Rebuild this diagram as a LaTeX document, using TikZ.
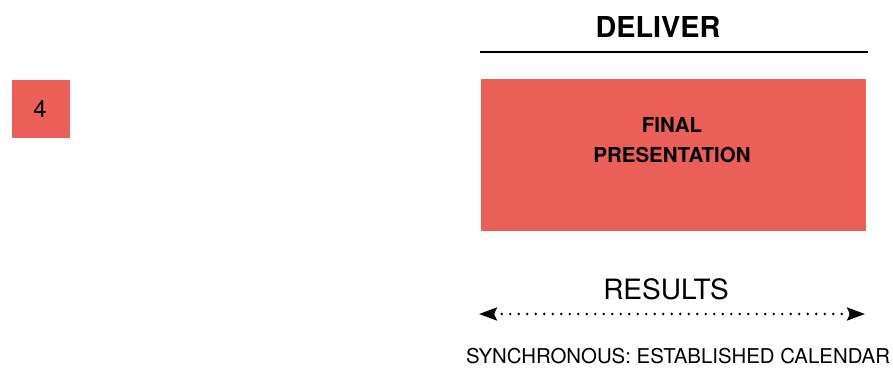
\documentclass[tikz,border=0pt]{standalone}
\usepackage{fontspec}
\setmainfont{TeX Gyre Heros}
\usetikzlibrary{arrows.meta}
\definecolor{boxred}{RGB}{234,95,87}
\tikzset{
  redbox/.style={fill=boxred, draw=none, inner sep=0pt},
  heading/.style={font=\bfseries\fontsize{28.8}{34}\selectfont, inner sep=0pt},
  boxlabel/.style={font=\bfseries\fontsize{20.5}{30}\selectfont, align=center, inner sep=0pt},
  spanhead/.tip={Stealth[length=18pt,width=13pt,inset=3pt]},
}
\begin{document}
\begin{tikzpicture}[x=1pt,y=-1pt]
  \useasboundingbox (0,0) rectangle (893,367);
  % step number tag
  \node[redbox, minimum width=58pt, minimum height=58pt] (tag) at (41,109) {};
  \node[font=\fontsize{24}{28}\selectfont, inner sep=0pt] (num) at (40,109) {4};
  % column heading and rule
  \node[heading] (head) at (658,27) {DELIVER};
  \coordinate (ruleL) at (480,52);
  \coordinate (ruleR) at (868,52);
  \draw[line width=2.5pt] (ruleL) -- (ruleR);
  % activity box
  \node[redbox, minimum width=385pt, minimum height=152pt] (final) at (673.5,155) {};
  \node[boxlabel] (finaltxt) at (672,140) {FINAL\\PRESENTATION};
  % outcome label and span arrow
  \node[font=\fontsize{28}{32}\selectfont, inner sep=0pt] (results) at (666,289) {RESULTS};
  \coordinate (spanL) at (479,314);
  \coordinate (spanR) at (865,314);
  \draw[line width=2.6pt, line cap=round, dash pattern=on 0pt off 8.5pt,
        spanhead-spanhead] (spanL) -- (spanR);
  \node[font=\fontsize{20.4}{24}\selectfont, inner sep=0pt] (sync) at (678,356) {SYNCHRONOUS: ESTABLISHED CALENDAR};
\end{tikzpicture}
\end{document}
